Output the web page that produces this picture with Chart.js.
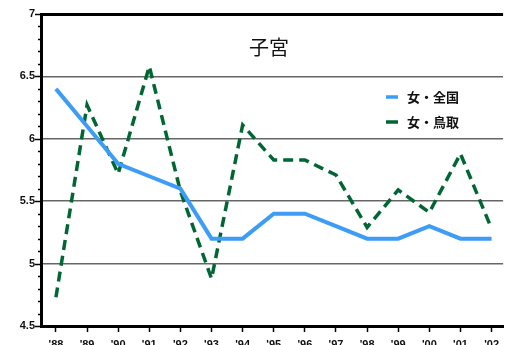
<!DOCTYPE html>
<html>
<head>
<meta charset="utf-8">
<script src="https://cdn.jsdelivr.net/npm/chart.js@4"></script>
<style>
  body { margin: 0; background: #fff; }
  #wrap { width: 505px; height: 345px; position: relative; }
</style>
</head>
<body>
<div id="wrap"><canvas id="chart"></canvas></div>
<script>
const years = ["'88", "'89", "'90", "'91", "'92", "'93", "'94", "'95", "'96", "'97", "'98", "'99", "'00", "'01", "'02"];
const zenkoku = [6.4, 6.1, 5.8, 5.7, 5.6, 5.2, 5.2, 5.4, 5.4, 5.3, 5.2, 5.2, 5.3, 5.2, 5.2];
const tottori = [4.73, 6.27, 5.72, 6.58, 5.58, 4.88, 6.11, 5.83, 5.83, 5.71, 5.29, 5.59, 5.41, 5.88, 5.28];
const seriesNames = ['女・全国', '女・鳥取'];
const titleText = '子宮';

const blue = '#3d9cf5';
const green = '#006633';

const isMajor = v => Math.abs(v * 2 - Math.round(v * 2)) < 1e-6;

// title, legend and y tick marks
const overlay = {
  id: 'overlay',
  afterDraw(chart) {
    const ctx = chart.ctx;
    const y = chart.scales.y;
    ctx.save();
    ctx.strokeStyle = '#000';
    ctx.lineWidth = 1.5;
    y.ticks.forEach(t => {
      const py = Math.round(y.getPixelForValue(t.value)) + 0.5;
      const len = isMajor(t.value) ? 6 : 3;
      ctx.beginPath();
      ctx.moveTo(y.right - len, py);
      ctx.lineTo(y.right, py);
      ctx.stroke();
    });

    ctx.fillStyle = '#111';
    ctx.font = '20px "Noto Sans CJK JP"';
    ctx.textAlign = 'center';
    ctx.textBaseline = 'middle';
    ctx.fillText(titleText, 269, 47);

    const colors = [blue, green];
    ctx.font = 'bold 13px "Noto Sans CJK JP"';
    ctx.textAlign = 'left';
    seriesNames.forEach((name, i) => {
      const ly = 97 + i * 25;
      ctx.strokeStyle = colors[i];
      ctx.lineWidth = 3.5;
      ctx.beginPath();
      ctx.moveTo(386, ly);
      ctx.lineTo(398, ly);
      ctx.stroke();
      ctx.fillStyle = '#111';
      ctx.fillText(name, 407, ly);
    });
    ctx.restore();
  }
};

new Chart(document.getElementById('chart'), {
  type: 'line',
  data: {
    datasets: [
      {
        label: seriesNames[0],
        data: zenkoku.map((v, i) => ({ x: i, y: v })),
        borderColor: blue,
        borderWidth: 4,
        pointRadius: 0,
        tension: 0,
      },
      {
        label: seriesNames[1],
        data: tottori.map((v, i) => ({ x: i, y: v })),
        borderColor: green,
        borderWidth: 3.5,
        borderDash: [10, 6],
        pointRadius: 0,
        tension: 0,
      },
    ],
  },
  options: {
    responsive: true,
    maintainAspectRatio: false,
    animation: false,
    layout: { padding: { top: 14, right: 0, left: 0, bottom: 0 } },
    plugins: {
      legend: { display: false },
      title: { display: false },
      tooltip: { enabled: false },
    },
    scales: {
      x: {
        type: 'linear',
        min: -0.48,
        max: 14.37,
        afterBuildTicks: s => { s.ticks = years.map((_, i) => ({ value: i })); },
        afterFit: s => { s.height = 19; },
        ticks: {
          autoSkip: false,
          maxRotation: 0,
          padding: 6,
          color: '#111',
          font: { family: 'Arial', size: 11, weight: 'bold' },
          callback: v => years[v],
        },
        grid: { drawOnChartArea: false, drawTicks: true, tickLength: 6, tickColor: '#000', tickWidth: 1.5 },
        border: { color: '#000', width: 3 },
      },
      y: {
        min: 4.5,
        max: 7,
        afterFit: s => { s.width = 41; },
        ticks: {
          stepSize: 0.1,
          autoSkip: false,
          padding: 6,
          color: '#111',
          font: { family: 'Arial', size: 11, weight: 'bold' },
          callback: v => (isMajor(v) ? String(Math.round(v * 10) / 10) : ''),
        },
        grid: {
          drawTicks: false,
          color: c => {
            const v = c.tick.value;
            if (!isMajor(v) || v < 4.6) return 'transparent';
            return v > 6.9 ? '#000' : '#666';
          },
          lineWidth: c => (c.tick.value > 6.9 ? 3 : 1.5),
        },
        border: { color: '#000', width: 3 },
      },
    },
  },
  plugins: [overlay],
});
</script>
</body>
</html>
